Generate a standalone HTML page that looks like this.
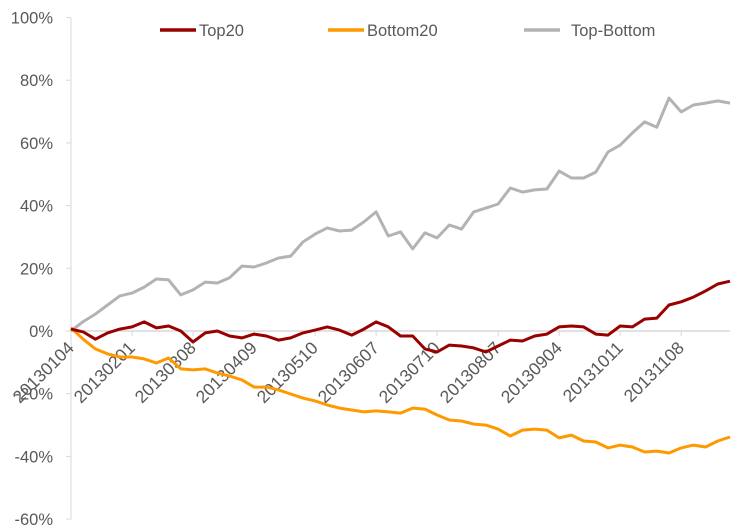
<!DOCTYPE html>
<html><head><meta charset="utf-8">
<style>
html,body{margin:0;padding:0;background:#fff;}
svg{display:block;font-family:"Liberation Sans",sans-serif;}
</style></head>
<body>
<svg id="chart" width="756" height="528" viewBox="0 0 756 528" xmlns="http://www.w3.org/2000/svg">
  <g id="legend">
    <g>
      <line x1="160" y1="30" x2="196" y2="30" stroke="#990000" stroke-width="3.5"/>
      <text x="199" y="36" font-size="16.5" fill="#595959">Top20</text>
    </g>
    <g>
      <line x1="328" y1="30" x2="364" y2="30" stroke="#FF9900" stroke-width="3.5"/>
      <text x="367" y="36" font-size="16.5" fill="#595959">Bottom20</text>
    </g>
    <g>
      <line x1="524" y1="30" x2="560" y2="30" stroke="#B3B3B3" stroke-width="3.5"/>
      <text x="571" y="36" font-size="16.5" fill="#595959">Top-Bottom</text>
    </g>
  </g>
</svg>
<script>
const tickLabels = ["20130104","20130201","20130308","20130409","20130510","20130607","20130710","20130807","20130904","20131011","20131108"];
const yTicks = [-60,-40,-20,0,20,40,60,80,100];
const top20 = [0.6,-0.3,-2.6,-0.6,0.6,1.3,2.9,1.0,1.6,0,-3.5,-0.6,0,-1.6,-2.2,-1.0,-1.6,-2.9,-2.2,-0.6,0.3,1.3,0.3,-1.3,0.6,2.9,1.3,-1.6,-1.6,-5.7,-6.7,-4.5,-4.8,-5.4,-6.7,-4.8,-2.9,-3.2,-1.6,-1.0,1.3,1.6,1.3,-1.0,-1.3,1.6,1.3,3.8,4.1,8.3,9.3,10.8,12.8,15.0,15.9];
const bottom20 = [1.0,-2.6,-5.7,-7.3,-8.3,-8.3,-8.9,-10.2,-8.6,-12.1,-12.4,-12.1,-13.4,-14.4,-15.6,-17.9,-17.9,-18.8,-20.1,-21.4,-22.3,-23.6,-24.6,-25.2,-25.8,-25.5,-25.8,-26.2,-24.6,-24.9,-26.8,-28.4,-28.7,-29.7,-30.0,-31.3,-33.5,-31.6,-31.3,-31.6,-34.1,-33.2,-35.1,-35.4,-37.3,-36.4,-37.0,-38.6,-38.3,-38.9,-37.3,-36.4,-37.0,-35.1,-33.8];
const topBottom = [0,3.0,5.4,8.3,11.2,12.1,14.0,16.6,16.3,11.5,13.1,15.6,15.3,17.0,20.7,20.4,21.7,23.3,23.9,28.4,30.9,32.9,31.9,32.2,34.8,38.0,30.3,31.6,26.2,31.3,29.7,33.8,32.5,38.0,39.2,40.5,45.6,44.3,45.0,45.3,51.0,48.8,48.8,50.7,57.1,59.3,63.2,66.7,65.0,74.3,69.9,72.1,72.7,73.4,72.7];

const NS="http://www.w3.org/2000/svg";
const svg=document.getElementById('chart');
const X0=71, X1=730, Y0=331, PX_PER_PCT=3.135;
const pointsPerTick=5;
const n=top20.length;
const step=(X1-X0)/(n-1);
function xScale(i){return X0+i*step;}
function yScale(v){return Y0 - v*PX_PER_PCT;}
function mk(tag,attrs){const e=document.createElementNS(NS,tag);for(const k in attrs)e.setAttribute(k,attrs[k]);return e;}

// y axis
const yAxis=mk('g',{});


svg.appendChild(yAxis);
const yl=mk('line',{x1:X0,x2:X0,y1:yScale(100),y2:yScale(-60),stroke:'#D9D9D9','stroke-width':1});


yAxis.appendChild(yl);
yTicks.forEach(v=>{
  const t=mk('line',{x1:X0-5,x2:X0,y1:yScale(v),y2:yScale(v),stroke:'#D9D9D9','stroke-width':1});
  
  
  yAxis.appendChild(t);
  const lb=mk('text',{x:53,y:yScale(v)+6,'text-anchor':'end','font-size':16.5,fill:'#595959'});
  lb.textContent=v+'%';
  
  
  yAxis.appendChild(lb);
});

// x axis
const xAxis=mk('g',{});


svg.appendChild(xAxis);
const xl=mk('line',{x1:X0,x2:X1,y1:Y0,y2:Y0,stroke:'#D9D9D9','stroke-width':1.5});


xAxis.appendChild(xl);
tickLabels.forEach((lab,k)=>{
  const x=xScale(k*pointsPerTick);
  const t=mk('line',{x1:x,x2:x,y1:Y0,y2:Y0+5,stroke:'#D9D9D9','stroke-width':1});
  
  
  xAxis.appendChild(t);
  const ax=x+4, ay=Y0+18;
  const tx=mk('text',{x:ax,y:ay,'text-anchor':'end','font-size':17.5,fill:'#595959',transform:`rotate(-45 ${ax} ${ay})`});
  tx.textContent=lab;
  
  
  xAxis.appendChild(tx);
});

// series
function drawSeries(vals,color,name){
  const d=vals.map((v,i)=>(i?'L':'M')+xScale(i).toFixed(1)+' '+yScale(v).toFixed(1)).join(' ');
  const p=mk('path',{d:d,fill:'none',stroke:color,'stroke-width':3,'stroke-linejoin':'round'});
  
  
  svg.appendChild(p);
}
drawSeries(topBottom,'#B3B3B3','top-bottom-line');
drawSeries(bottom20,'#FF9900','bottom20-line');
drawSeries(top20,'#990000','top20-line');
</script>
</body></html>
